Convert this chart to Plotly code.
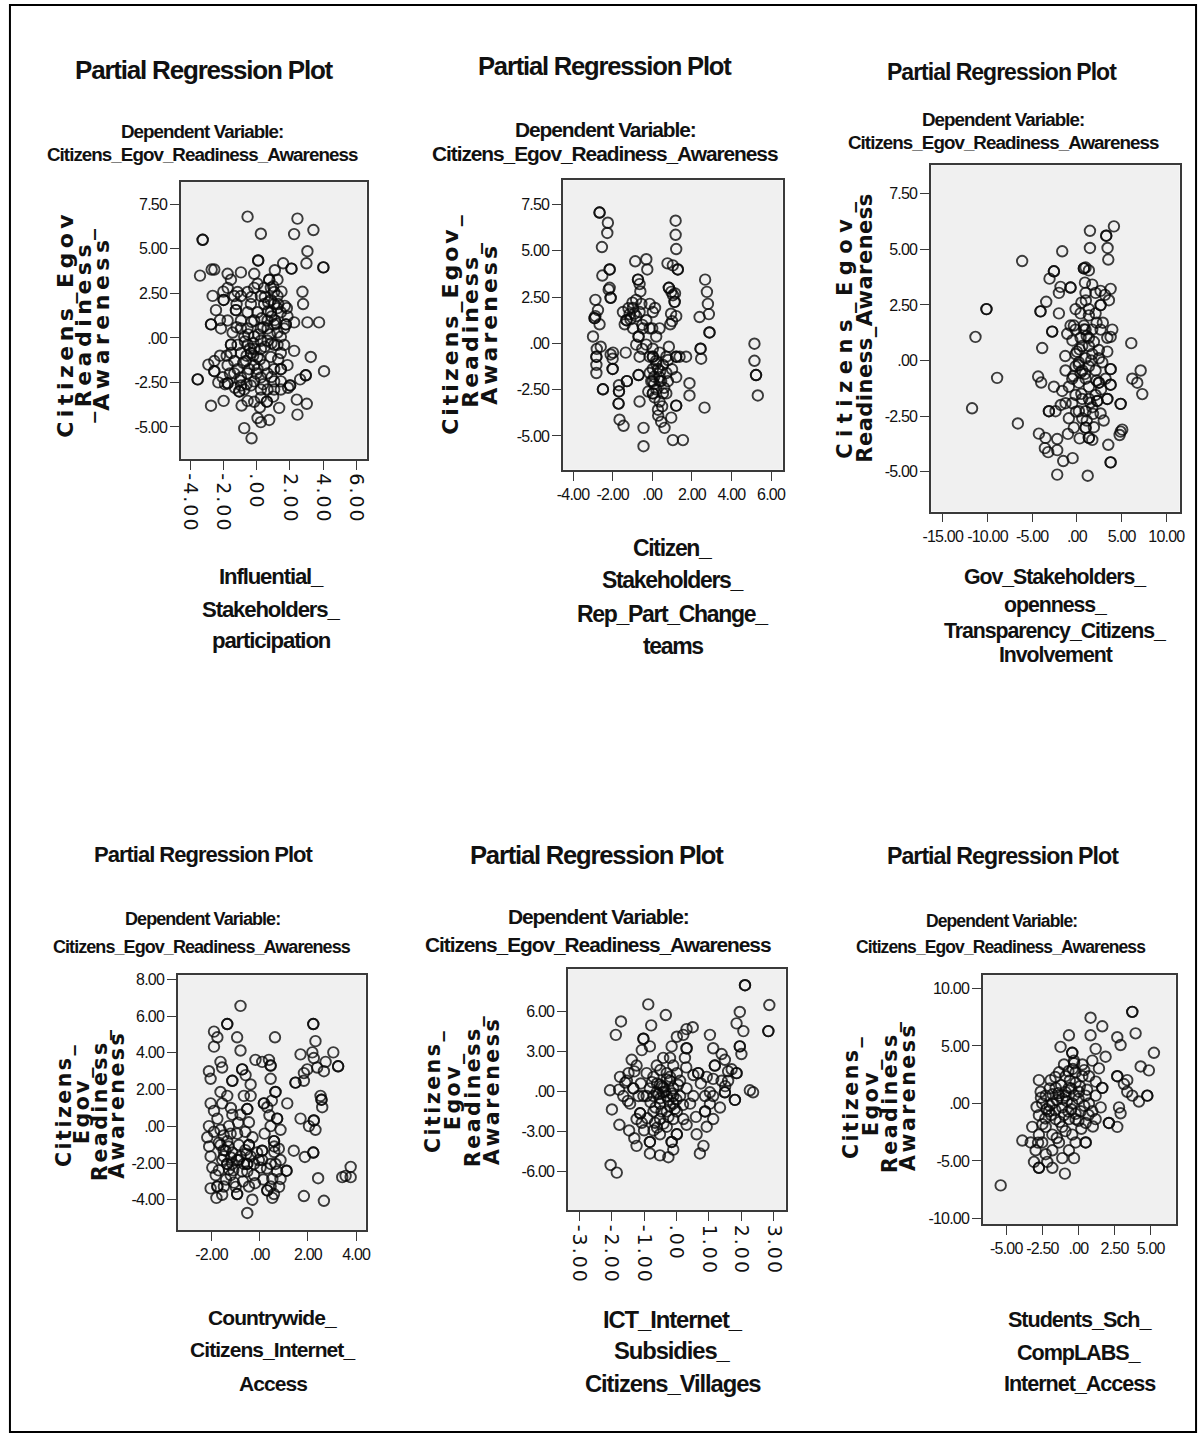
import plotly.graph_objects as go

W, H = 1203, 1437

SANS = "Liberation Sans, Arial, Helvetica, sans-serif"
WIDE = "DejaVu Sans, Verdana, sans-serif"
INK = "#111111"
FRAME = "#3a3a3a"

plot_title = "Partial Regression Plot"
dependent_label = "Dependent Variable:"
dependent_name = "Citizens_Egov_Readiness_Awareness"

# ---------------------------------------------------------------- data
p1_points = [
    (-0.54, 6.81), (0.26, 5.85), (2.46, 6.70), (2.26, 5.83), (3.42, 6.06), (3.06, 4.87), (3.00, 4.19),
    (-3.24, 5.51), (-3.24, 5.51), (0.10, 4.35), (0.10, 4.35), (2.10, 3.89), (2.10, 3.89), (4.02, 3.96), (4.02, 3.96),
    (1.60, 4.19), (-3.40, 3.50), (-2.70, 3.84), (-2.54, 3.84), (-1.74, 3.60), (-1.54, 3.27), (-0.94, 3.68), (-0.14, 3.60),
    (0.76, 3.27), (0.76, 3.27), (1.26, 3.27), (2.76, 2.59), (2.80, 1.90), (3.06, 0.87), (3.76, 0.87),
    (-2.64, 2.36), (-1.98, 2.13), (-1.98, 2.13), (-1.24, 1.56), (-1.24, 1.56), (-2.74, 0.76), (-2.74, 0.76),
    (-2.14, 0.53), (-2.44, 1.56), (-1.54, -0.38), (-1.54, -0.38), (-3.54, -2.33), (-3.54, -2.33),
    (-2.54, -1.30), (-2.54, -1.87), (-2.54, -1.87), (-2.04, -2.21), (-1.74, -2.55), (-1.74, -2.55),
    (-2.74, -3.81), (-1.98, -3.54), (-1.04, -3.01), (-1.04, -3.01), (-0.54, -3.54), (-0.74, -5.07), (-0.30, -5.64),
    (0.06, -4.50), (0.26, -4.73), (0.76, -4.61), (0.62, -3.58), (0.62, -3.58), (1.36, -3.93), (2.02, -2.67), (2.02, -2.67),
    (2.42, -3.47), (2.46, -4.31), (3.02, -3.70), (2.96, -2.10), (2.96, -2.10), (2.62, -2.33), (4.06, -1.87), (3.26, -1.07),
    (2.26, -0.73), (1.86, -1.53), (1.46, -1.76), (1.46, -1.76), (1.76, 0.76), (1.76, 0.76), (1.82, 1.67), (2.26, 0.87),
    (-0.94, 0.53), (-0.74, 0.07), (-0.54, -0.39), (-0.34, -0.85), (-0.94, -0.85), (-0.64, -1.30), (-0.44, -1.76),
    (-0.14, -1.53), (0.06, -1.07), (0.26, -0.62), (-0.14, 0.07), (0.26, 0.53), (0.66, 0.98), (0.86, 1.44), (1.06, 1.90),
    (1.26, 1.67), (0.86, 2.13), (0.46, 1.90), (0.66, 0.53), (1.06, 0.75), (1.26, 0.30), (1.46, 0.07), (1.06, -0.39),
    (1.46, -0.85), (0.86, -1.07), (0.46, -1.53), (0.26, -2.22), (0.66, -1.99), (1.06, -1.76), (-0.14, -2.44), (-0.54, -1.99),
    (-0.94, -2.22), (-1.14, -1.76), (-1.34, -1.30), (-1.54, -0.85), (-1.14, -0.39), (-0.94, 0.98), (-0.54, 1.44), (-0.14, 0.98),
    (0.06, 1.44), (0.26, 2.35), (-0.14, 2.81), (-0.54, 2.58), (-0.94, 2.35), (-0.34, 1.90), (0.06, 3.04), (0.46, 2.81),
    (0.86, 2.81), (1.06, 2.58), (1.26, 2.35), (1.46, 1.44), (1.86, 1.21), (1.66, 0.53), (1.26, -0.39), (1.66, -0.39),
    (0.66, -0.16), (0.26, -0.16), (-0.14, -0.62), (-0.54, 0.53), (-0.34, -2.67), (0.26, -2.90), (0.66, -2.90), (1.06, -2.44),
    (1.46, -2.44), (0.06, -1.76), (-0.74, -2.90), (-1.34, -1.99), (-0.94, -2.67), (-1.74, -1.53), (-1.44, 0.30), (-1.74, 0.98),
    (-1.14, 2.58), (-1.34, 2.35), (-1.74, 2.81), (1.06, -2.90), (1.46, -2.90), (-0.14, -3.59), (0.26, -3.36),
    (0.90, 1.20), (1.10, 1.00), (0.70, 1.50), (-0.60, -1.00), (-0.40, -0.60), (-0.80, -1.40), (0.20, -1.20), (1.20, 0.80),
    (0.80, 0.20), (-0.20, -0.30), (1.30, 1.90), (0.40, 0.60), (-0.50, 0.20), (0.00, -2.00), (-1.00, -2.40), (-1.60, -2.00),
    (-2.20, -1.00), (-1.90, -2.60), (0.50, 2.30), (1.00, 2.90),
    (-0.30, 0.90), (0.10, 0.20), (0.50, -0.50), (0.90, -0.30), (1.30, -1.20), (-0.70, -0.20), (-1.20, 0.60), (0.30, 1.10),
    (0.70, 2.00), (1.50, 2.60), (1.70, 1.80), (-0.60, -2.60), (-0.20, -1.00), (0.40, -2.60), (0.90, -2.20), (-1.30, -2.80),
    (-1.80, -1.00), (-2.30, -2.50), (0.20, -3.90), (1.00, -3.30), (-0.90, -3.80), (1.90, -2.80), (-1.20, 1.90), (-0.30, 2.30),
    (1.10, 3.80), (-2.00, 2.60), (-2.90, -1.50), (-2.20, 1.00),
]
p1_xticks = [-4, -2, 0, 2, 4, 6]
p1_xticklabels = ["-4.00", "-2.00", ".00", "2.00", "4.00", "6.00"]
p1_yticks = [-5, -2.5, 0, 2.5, 5, 7.5]
p1_yticklabels = ["-5.00", "-2.50", ".00", "2.50", "5.00", "7.50"]
p1_ytitle = ["Citizens_Egov", "_Readiness_", "Awareness"]
p1_xtitle = ["Influential_", "Stakeholders_", "participation"]

p2_points = [
    (-2.66, 7.06), (-2.66, 7.06), (-2.24, 6.51), (-2.27, 5.96), (-2.54, 5.20), (-2.52, 3.66), (-2.15, 3.99), (-2.15, 3.99),
    (-2.10, 2.46), (-2.10, 2.46), (-2.15, 3.00), (-2.87, 2.35), (-2.74, 1.80), (-2.87, 1.47), (-2.66, 1.03), (-2.91, 1.36), (-2.91, 1.36),
    (-2.99, 0.37), (-2.60, -0.18), (-2.82, -0.72), (-2.82, -0.72), (-2.82, -1.16), (-2.82, -1.60), (-1.98, -0.50), (-2.00, -0.83),
    (-2.00, -1.38), (-2.00, -1.38), (-2.49, -2.48), (-2.49, -2.48), (-1.68, -2.26), (-1.68, -2.59), (-1.68, -2.59), (-1.70, -3.25), (-1.70, -3.25),
    (-1.65, -4.12), (-1.45, -4.45), (-1.28, -2.04), (-1.28, -2.04), (-1.34, -0.50), (-1.30, 1.25), (-1.30, 1.25), (-1.14, 1.58), (-0.97, 1.91),
    (-0.86, 4.43), (-0.30, 4.54), (-0.25, 3.99), (-0.72, 3.44), (-0.72, 3.44), (-0.64, 3.20), (-0.81, 2.35), (-0.55, 2.13),
    (-0.69, 0.37), (-0.69, 0.37), (-0.81, -0.07), (-0.64, -0.72), (-0.69, -1.71), (-0.69, -1.71), (-0.64, -3.14), (-0.44, -4.56), (-0.44, -5.55),
    (-0.13, 2.13), (0.00, 0.81), (0.14, 1.91), (0.03, -0.72), (0.03, -0.72), (0.03, -2.70), (0.03, -2.70), (0.29, -1.38), (0.37, -2.04),
    (0.37, -3.14), (0.45, -4.23), (0.62, -4.56), (0.77, 4.32), (1.04, 4.21), (1.29, 3.99), (1.29, 3.99), (1.18, 6.62), (1.18, 5.86), (1.21, 5.09),
    (0.84, 3.00), (0.84, 3.00), (0.96, 2.78), (1.13, 2.24), (1.13, 2.24), (1.21, 1.47), (0.91, 1.03), (0.84, -0.18), (1.21, -0.72), (1.21, -0.72),
    (1.38, -0.72), (1.71, -0.72), (1.21, -1.82), (1.21, -3.36), (1.21, -3.36), (0.96, -4.01), (1.04, -5.22), (1.55, -5.22), (1.88, -2.15), (1.88, -2.81),
    (0.79, -2.04), (2.39, 1.42), (2.44, -0.29), (2.44, -0.29), (2.47, -0.83), (2.67, 3.44), (2.76, 2.78), (2.81, 2.13), (2.86, 1.58), (2.89, 0.59), (2.89, 0.59),
    (2.64, -3.47), (5.16, -0.02), (5.16, -0.94), (5.24, -1.71), (5.24, -1.71), (5.33, -2.81),
    (0.03, -1.38), (0.20, -0.94), (-0.13, -1.60), (0.37, -0.50), (0.54, -1.16), (0.03, -2.04), (0.20, -2.48), (-0.13, -0.72), (0.37, -1.82),
    (0.71, -1.60), (0.03, -0.29), (-0.30, -0.07), (-0.13, 0.81), (0.20, 0.37), (-0.30, 1.25), (0.03, 1.69), (-0.47, 0.81), (-0.97, 0.81),
    (-0.81, 1.47), (-1.48, 1.69), (-1.39, 1.03), (-0.64, 1.69), (0.37, 0.81), (0.54, -2.70), (0.29, -3.58), (0.12, -2.92), (0.71, -2.70),
    (-0.05, -2.04), (0.45, -2.04), (0.71, -0.72), (0.95, 1.60), (1.05, 2.60), (-1.10, 1.30), (0.10, -1.80),
    (-0.90, 1.60), (-1.20, 1.90), (-0.50, 1.00), (0.20, -1.10), (0.40, -1.50), (0.10, -2.20), (-0.20, -2.60), (0.50, -3.40),
    (0.30, -3.90), (0.60, -2.40), (-0.50, -0.30), (1.00, -1.40), (1.15, 2.70), (1.00, 1.20), (-2.80, -0.30), (-2.10, -0.60),
    (-2.20, 2.90), (0.80, -0.90), (-0.60, 2.80), (-1.00, 2.20),
]
p2_xticks = [-4, -2, 0, 2, 4, 6]
p2_xticklabels = ["-4.00", "-2.00", ".00", "2.00", "4.00", "6.00"]
p2_yticks = [-5, -2.5, 0, 2.5, 5, 7.5]
p2_yticklabels = ["-5.00", "-2.50", ".00", "2.50", "5.00", "7.50"]
p2_ytitle = ["Citizens_Egov_", "Readiness_", "Awareness"]
p2_xtitle = ["Citizen_", "Stakeholders_", "Rep_Part_Change_", "teams"]

p3_points = [
    (4.14, 6.03), (1.46, 5.83), (3.28, 5.61), (3.28, 5.61), (1.46, 5.06), (3.43, 5.06), (3.51, 4.54), (-1.64, 4.91), (-6.12, 4.47),
    (-2.57, 4.01), (-2.57, 4.01), (-3.06, 3.68), (-1.83, 3.31), (-2.01, 3.04), (-0.71, 3.28), (-0.71, 3.28), (-3.43, 2.64),
    (-4.07, 2.21), (-4.07, 2.21), (-2.01, 2.12), (-2.76, 1.30), (-2.76, 1.30), (-3.88, 0.56), (0.78, 4.14), (0.78, 4.14),
    (0.97, 4.18), (1.34, 4.05), (1.72, 3.41), (0.97, 3.04), (2.09, 3.04), (2.65, 3.13), (3.13, 2.95), (3.77, 3.22), (3.58, 2.71),
    (2.65, 2.49), (2.65, 2.49), (-0.15, 2.31), (0.41, 2.12), (1.34, 2.03), (2.09, 2.12), (3.96, 1.39), (3.77, 1.06), (3.40, 1.02),
    (6.08, 0.78), (-11.34, 1.06), (-10.11, 2.31), (-10.11, 2.31), (-8.92, -0.78), (-11.72, -2.15), (-6.60, -2.83),
    (-4.33, -0.72), (-3.99, -0.99), (-4.25, -3.29), (-3.51, -3.48), (-3.58, -3.94), (-3.21, -4.12), (-2.20, -3.53),
    (-2.20, -4.03), (-1.53, -4.52), (-2.20, -5.13), (-0.48, -4.39), (1.21, -5.18), (3.77, -4.58), (3.77, -4.58), (3.51, -3.79),
    (4.89, -3.20), (5.07, -3.11), (4.78, -3.35), (4.89, -1.95), (4.89, -1.95), (6.19, -0.82), (7.13, -0.45), (6.75, -1.00),
    (7.31, -1.51), (3.77, -0.39), (3.77, -0.39), (3.77, -1.09), (3.77, -1.09), (2.46, -1.00), (2.46, -1.00), (3.40, -1.73),
    (3.40, -1.73), (2.65, -2.38), (0.97, -3.02), (0.97, -3.02), (1.34, -3.48), (1.34, -3.48), (1.72, -3.57), (-0.34, -3.02),
    (-2.39, -2.28), (-3.13, -2.28), (-3.13, -2.28), (-2.57, -1.18), (-1.64, -1.37), (-1.27, -1.92), (-0.52, -1.92),
    (0.22, -2.28), (0.97, -2.28), (1.72, -2.10), (2.28, -1.82), (2.28, -1.82),
    (-0.15, 1.39), (0.41, 1.02), (0.97, 1.39), (1.34, 1.02), (1.72, 1.39), (0.60, 0.65), (-0.15, 0.29), (0.22, -0.08),
    (0.97, 0.10), (1.72, 0.29), (2.46, 0.47), (0.60, -0.45), (0.97, -0.82), (1.34, -1.18), (0.22, -1.00), (-0.52, -0.82),
    (-1.27, -0.45), (-0.90, -1.18), (-0.15, -1.55), (0.60, -1.73), (1.34, -1.73), (2.09, -1.55), (1.34, -0.26), (2.09, -0.45),
    (-0.15, -0.26), (0.41, -0.54), (0.78, 1.57), (-0.34, 1.57), (-0.71, 1.57), (-1.08, 1.20), (1.34, 2.31), (2.65, 1.39),
    (2.84, -0.08), (3.21, -0.82), (2.46, 0.10), (1.90, 0.84), (1.34, 0.65),
    (0.80, 1.40), (1.10, 1.10), (0.90, -0.60), (0.50, -1.50), (1.50, -1.90), (-0.10, -2.30), (0.20, -0.20), (1.80, -2.40),
    (2.20, -0.90), (0.30, 0.50),
    (0.50, 2.60), (1.00, 2.70), (-0.50, 0.90), (0.00, 0.40), (1.60, 0.00), (2.20, 1.70), (0.60, -2.60), (1.10, -2.70),
    (-0.90, -2.60), (-1.80, -2.00), (3.00, -2.70), (2.90, 1.70), (-1.30, 0.20), (0.90, 3.50), (1.90, -3.00), (0.30, -3.50),
    (-1.00, -3.30), (3.40, 0.40), (2.70, -1.30), (-0.40, -0.70),
]
p3_xticks = [-15, -10, -5, 0, 5, 10]
p3_xticklabels = ["-15.00", "-10.00", "-5.00", ".00", "5.00", "10.00"]
p3_yticks = [-5, -2.5, 0, 2.5, 5, 7.5]
p3_yticklabels = ["-5.00", "-2.50", ".00", "2.50", "5.00", "7.50"]
p3_ytitle = ["Citizens_Egov_", "Readiness_Awareness"]
p3_xtitle = ["Gov_Stakeholders_", "openness_", "Transparency_Citizens_", "Involvement"]

p4_points = [
    (-0.80, 6.56), (-1.35, 5.57), (-1.35, 5.57), (-1.90, 5.16), (-1.76, 4.85), (-1.90, 4.34), (-2.11, 3.00), (-2.04, 2.59),
    (-0.94, 4.85), (-0.80, 4.13), (-1.63, 3.51), (-1.56, 3.20), (-1.14, 2.48), (-1.14, 2.48), (-0.73, 3.10), (-0.73, 3.10),
    (-0.59, 2.79), (-0.18, 3.62), (0.10, 3.51), (0.38, 3.62), (0.45, 3.31), (0.45, 3.31), (0.45, 2.59), (0.63, 4.85),
    (-0.38, 2.28), (-0.38, 1.66), (1.14, 1.25), (1.48, 2.38), (1.48, 2.38), (1.83, 2.90), (1.83, 2.48), (1.97, 3.10),
    (1.69, 3.92), (2.18, 4.03), (2.22, 5.57), (2.22, 5.57), (2.31, 4.64), (2.24, 3.72), (2.38, 3.20), (2.66, 3.00), (2.73, 3.51),
    (3.05, 4.03), (3.25, 3.27), (3.25, 3.27), (2.52, 1.66), (2.56, 1.45), (2.56, 1.45), (2.59, 1.04), (2.24, 0.32), (2.24, 0.32),
    (2.04, 0.01), (2.31, -0.19), (2.22, -1.43), (2.22, -1.43), (1.87, -1.67), (1.69, 0.42), (1.41, -1.33), (2.42, -2.83),
    (1.83, -3.80), (2.66, -4.06), (1.11, -2.42), (1.11, -2.42), (3.42, -2.77), (3.56, -2.70), (3.77, -2.21), (3.77, -2.77),
    (-2.04, -3.38), (-1.56, -3.73), (-1.49, -3.28), (-1.76, -3.28), (-1.76, -3.28), (-0.94, -3.69), (-0.94, -3.69),
    (-0.52, -4.72), (-0.31, -4.00), (-0.45, -3.28), (0.31, -3.49), (0.31, -3.49), (0.52, -3.90), (0.59, -3.69), (0.72, -2.46),
    (0.86, -2.87), (0.59, -0.81), (0.59, -0.81), (0.65, -2.05), (0.17, 1.25), (0.17, 1.25), (0.31, 1.04), (0.65, 1.87),
    (0.65, 1.87), (0.72, 0.42), (0.72, 0.42), (0.10, -1.33), (0.10, -1.33), (0.10, -1.84), (0.03, -2.25), (0.45, 0.01),
    (-0.52, 0.94), (-0.52, 0.94), (-0.45, 0.22), (-0.45, -1.02), (-0.45, -1.02), (-0.87, -1.84), (-0.52, -2.05), (-0.52, -2.05),
    (-0.52, -2.46), (-2.11, 0.01), (-2.18, -0.60), (-2.04, 1.25), (-1.90, 0.84), (-1.76, 0.42), (-1.63, -0.19), (-1.63, -1.02),
    (-1.49, -1.64), (-1.35, -2.05), (-1.35, -2.05), (-2.04, -1.64), (-1.97, -2.25), (-1.83, -2.66), (-1.21, -2.66), (-1.07, -3.07),
    (-1.35, -0.81), (-1.21, -0.40), (-1.28, 0.01), (-1.14, 0.63), (-0.94, -0.40), (-0.87, -1.02), (-0.80, 0.63), (-0.66, 1.66),
    (-1.56, 1.25), (-1.35, 1.66), (-1.63, 1.87), (-1.14, -1.43), (-0.94, -1.84), (-0.38, -1.64), (-0.24, -2.05), (-0.11, -1.43),
    (-0.04, -1.84), (-0.73, -2.46), (-0.24, -2.66), (0.45, -2.05), (0.52, -2.87), (0.45, -3.28), (0.86, -1.84), (0.79, -1.22),
    (0.86, -0.19), (-1.28, -2.35), (-1.14, -2.05), (-1.56, -1.84), (-1.42, -1.33), (-0.80, -1.64), (-0.66, -2.05),
    (-1.30, -1.10), (-1.50, -0.50), (-1.20, -1.70), (-0.55, -1.50), (0.60, -1.40), (-1.70, -2.40),
    (-1.50, -1.30), (-1.10, -2.40), (-1.40, -2.90), (-1.70, -0.90), (-1.90, -0.30), (-0.60, -0.30), (-0.30, -0.60),
    (-0.70, -3.00), (-0.20, -3.10), (0.30, -2.30), (0.60, -1.10), (0.20, -0.40), (0.40, 0.60), (0.50, 1.40), (-1.00, -3.30),
    (-1.80, -3.90), (-2.10, -1.10), (-0.90, 0.20), (-1.20, 1.00), (0.80, -3.30), (0.15, -2.90), (-0.60, -1.30),
]
p4_xticks = [-2, 0, 2, 4]
p4_xticklabels = ["-2.00", ".00", "2.00", "4.00"]
p4_yticks = [-4, -2, 0, 2, 4, 6, 8]
p4_yticklabels = ["-4.00", "-2.00", ".00", "2.00", "4.00", "6.00", "8.00"]
p4_ytitle = ["Citizens_", "Egov_", "Readiness_", "Awareness"]
p4_xtitle = ["Countrywide_", "Citizens_Internet_", "Access"]

p5_points = [
    (2.11, 7.94), (2.11, 7.94), (2.86, 6.46), (2.83, 4.51), (2.83, 4.51), (1.95, 5.94), (1.85, 5.09), (2.06, 4.51),
    (-0.87, 6.51), (-0.78, 4.94), (-0.33, 5.71), (-1.71, 5.23), (-1.87, 4.23), (-1.02, 3.94), (-1.02, 3.94), (-1.07, 3.09),
    (-0.82, 3.37), (-1.38, 2.37), (-1.23, 1.94), (-1.48, 1.37), (-1.74, 1.09), (-1.58, 0.66), (-2.05, 0.09), (-1.77, 0.14),
    (-1.99, -1.34), (-1.76, -2.49), (-1.46, -2.91), (-2.03, -5.49), (-1.84, -6.06), (-1.30, -3.49), (-1.23, -4.06),
    (-1.12, -1.63), (-1.12, -1.63), (-1.07, -2.34), (-0.82, -3.77), (-0.82, -3.77), (-0.82, -4.63), (-0.51, -4.77), (-0.25, -4.91),
    (-0.15, -3.77), (-0.15, -3.77), (-0.10, -4.34), (0.72, -4.63), (0.83, -4.06), (0.62, -3.20), (0.93, -2.63),
    (0.88, -1.49), (0.88, -1.49), (1.03, -0.91), (1.13, -0.34), (1.49, -0.06), (1.49, -0.06), (1.80, -0.63), (1.80, -0.63),
    (2.36, -0.06), (2.26, 0.09), (1.59, 1.51), (1.70, 1.66), (1.85, 1.37), (1.85, 1.37), (1.95, 3.37), (1.95, 3.37), (2.00, 2.80),
    (1.39, 2.80), (1.49, 2.37), (1.18, 1.94), (1.18, 1.94), (1.13, 0.94), (0.93, 1.09), (1.03, 4.23), (1.13, 3.23),
    (0.67, 1.37), (0.67, 1.37), (0.31, 3.23), (0.31, 3.23), (0.26, 2.51), (0.21, 4.23), (0.31, 4.66), (0.50, 4.80),
    (0.01, 4.09), (-0.15, 3.37), (0.52, 1.23), (0.52, -0.34), (0.31, 0.23), (0.42, -0.91), (0.21, -2.06), (0.31, -2.49),
    (0.01, -3.20), (0.01, -3.20),
    (-0.71, 1.09), (-0.51, 0.51), (-0.30, 1.37), (-0.10, 1.94), (-0.30, -0.34), (-0.51, -0.91), (-0.71, -0.34), (-0.10, 0.23),
    (0.11, -0.34), (-0.30, -1.49), (-0.10, -2.06), (-0.51, -2.06), (-0.71, -1.49), (-0.92, -0.34), (-0.82, 0.23), (-0.61, 1.94),
    (-0.41, 2.51), (-0.20, 2.51), (0.01, 1.37), (0.11, 0.80), (-0.30, -2.63), (-0.10, -0.91), (-0.41, -0.06), (-0.20, 0.80),
    (-0.61, -0.06), (-0.25, -0.63), (0.01, -1.49), (-0.46, -1.49), (-0.66, -2.34), (-0.10, -0.34), (-0.71, -2.91), (-0.51, -3.20),
    (-1.53, 0.80), (-1.33, 0.23), (-1.33, 0.23), (-1.17, -0.34), (-1.64, -0.34), (-1.43, -0.91), (-1.23, -2.06), (-1.02, -0.34),
    (-0.92, 1.37), (1.13, -2.06), (1.34, -1.20), (1.03, -0.06), (1.39, 0.80), (1.59, 0.80), (0.88, -0.34),
    (-0.40, 0.30), (-0.20, -1.10), (-0.60, 0.60), (-0.30, 0.90), (-0.50, -0.50), (0.00, -0.60),
    (-0.35, 0.00), (-0.55, -0.20), (-0.15, -0.15), (-0.45, 0.40), (-0.25, -1.90), (-0.65, -1.20), (-0.80, -0.80), (0.05, 0.50),
    (-0.20, 1.10), (-0.50, 1.60), (-0.75, 0.70), (-0.05, -1.30), (-0.40, -2.40), (-0.90, -2.00), (0.20, -1.00), (-1.10, 0.60),
    (-1.30, 1.50), (-1.50, -0.70), (0.60, -1.90), (1.50, 0.40), (0.75, 0.60), (-0.60, -2.70), (-1.00, -2.90), (0.30, 1.80),
]
p5_xticks = [-3, -2, -1, 0, 1, 2, 3]
p5_xticklabels = ["-3.00", "-2.00", "-1.00", ".00", "1.00", "2.00", "3.00"]
p5_yticks = [-6, -3, 0, 3, 6]
p5_yticklabels = ["-6.00", "-3.00", ".00", "3.00", "6.00"]
p5_ytitle = ["Citizens_", "Egov_", "Readiness_", "Awareness"]
p5_xtitle = ["ICT_Internet_", "Subsidies_", "Citizens_Villages"]

p6_points = [
    (-5.39, -7.12), (-3.89, -3.22), (-3.31, -3.39), (-3.08, -5.08), (-2.74, -5.59), (-2.74, -5.59), (-2.74, 2.03),
    (-2.16, -5.08), (-1.81, -5.59), (-0.94, -6.10), (-1.12, -4.75), (-0.31, -4.75), (-1.24, 4.92), (-0.66, 5.93),
    (0.84, 7.46), (0.84, 5.93), (1.65, 6.71), (1.19, 4.75), (1.88, 4.07), (2.69, 5.76), (2.92, 5.08), (3.73, 7.97), (3.73, 7.97),
    (3.96, 6.10), (5.23, 4.41), (4.88, 2.88), (4.31, 3.22), (4.77, 0.68), (4.77, 0.68), (4.19, 0.17), (3.73, 0.68), (3.38, 1.02),
    (2.81, -0.34), (2.92, -0.85), (2.69, 2.37), (2.69, 2.37), (3.15, 1.69), (3.38, 2.03), (2.11, -1.69), (2.11, -1.69),
    (2.69, -2.03), (1.65, 1.36), (1.65, 1.36), (0.73, 0.00), (1.19, -1.36), (0.50, -3.39), (0.50, -3.39), (-0.43, 4.41),
    (-0.43, 4.41), (-0.31, 3.73), (-0.20, 2.71),
    (-2.27, 0.68), (-1.81, 0.00), (-1.35, 0.68), (-2.04, -0.68), (-1.58, -1.36), (-1.12, -0.34), (-0.89, 0.68), (-0.66, 1.36),
    (-0.43, 0.00), (-0.20, -1.36), (-1.12, -2.03), (-1.81, -2.71), (-2.27, -2.03), (-2.74, -1.02), (-2.51, 0.00), (-1.58, 1.36),
    (-0.89, 2.37), (0.03, 1.02), (0.27, 2.37), (0.50, 0.68), (0.15, -0.68), (-0.66, -1.36), (-0.43, -2.71), (-1.35, -3.39),
    (-1.81, -4.07), (-2.51, -3.39), (-2.74, -2.71), (-2.97, -4.07), (-2.27, -4.41), (-3.20, -2.03), (-2.62, 1.02), (-1.93, 2.03),
    (-1.35, 2.71), (-1.00, 3.39), (0.27, 3.39), (0.73, 2.37), (0.96, 3.73), (1.42, 3.05), (1.19, 0.68), (1.54, -0.34),
    (0.96, -0.68), (0.50, -1.69), (-0.20, -3.39), (-0.66, -4.07),
    (-0.30, 3.50), (-0.40, 3.00), (0.10, 1.50), (-0.90, 1.00), (-1.50, 0.30), (-2.00, -0.20), (-0.50, -0.50), (0.40, -0.20),
    (-1.00, -1.00), (-1.80, 0.80), (-2.30, -1.30), (0.00, 0.40), (-0.60, 2.00), (0.60, 1.20), (1.00, -2.00), (-2.60, 0.50),
    (-1.20, 1.60), (-0.20, -0.90), (-1.60, -0.60), (-0.80, 0.20),
    (-1.40, 0.90), (-1.10, 0.40), (-0.70, -0.70), (-0.30, 0.70), (-1.90, -1.00), (-2.20, -0.50), (-2.50, -1.80), (-1.30, -1.60),
    (-0.90, -2.40), (-0.20, 1.80), (0.40, 2.90), (-0.70, 2.80), (-1.60, 2.30), (-2.90, -0.30), (-2.80, -3.40), (-1.50, -3.00),
    (0.20, -2.20), (0.70, -1.00), (1.20, 1.90), (-0.50, 1.30), (0.00, -1.50), (-2.00, 1.30),
]
p6_xticks = [-5, -2.5, 0, 2.5, 5]
p6_xticklabels = ["-5.00", "-2.50", ".00", "2.50", "5.00"]
p6_yticks = [-10, -5, 0, 5, 10]
p6_yticklabels = ["-10.00", "-5.00", ".00", "5.00", "10.00"]
p6_ytitle = ["Citizens_", "Egov_", "Readiness_", "Awareness"]
p6_xtitle = ["Students_Sch_", "CompLABS_", "Internet_Access"]

# ---------------------------------------------------------------- layout (pixel geometry)
# box = (left, top, right, bottom) of the plotting frame.
# title = (cx, cy, size, spacing); sub = (cx, cy1, cy2, size, spacing)
# ytx = x centre of each rotated line of the vertical title, yls = letter spacing per line.
panels = [
    dict(points=p1_points, xt=p1_xticks, xl=p1_xticklabels, yt=p1_yticks, yl=p1_yticklabels,
         box=(180, 179, 366, 457), xr=(-4.54, 6.62), yr=(-6.79, 8.75), xangle=90,
         title=(203, 66, 26, -1.2), sub=(201, 128, 151, 18.8, -0.96),
         ytitle=p1_ytitle, ytx=(64, 82, 100), yls=(4.5, 4.5, 4.5), yty=321, yts=22,
         xtitle=p1_xtitle, xtx=271, xty=(575, 608, 640), xts=(22.2, -1.15)),
    dict(points=p2_points, xt=p2_xticks, xl=p2_xticklabels, yt=p2_yticks, yl=p2_yticklabels,
         box=(563, 177, 783, 468), xr=(-4.5, 6.58), yr=(-6.82, 8.81), xangle=0,
         title=(605, 62, 25.6, -1.2), sub=(605, 126, 150, 20.9, -1.06),
         ytitle=p2_ytitle, ytx=(450, 470, 489), yls=(3, 3, 3), yty=321, yts=22,
         xtitle=p2_xtitle, xtx=673, xty=(547, 579, 613, 645), xts=(23, -1.33)),
    dict(points=p3_points, xt=p3_xticks, xl=p3_xticklabels, yt=p3_yticks, yl=p3_yticklabels,
         box=(932, 162, 1181, 510), xr=(-16.29, 11.48), yr=(-6.79, 8.78), xangle=0,
         title=(1003, 68, 23, -1.0), sub=(1004, 116, 139, 18.8, -0.96),
         ytitle=p3_ytitle, ytx=(846, 866), yls=(6.5, 0.5), yty=325, yts=21,
         xtitle=p3_xtitle, xtx=1057, xty=(576, 604, 630, 654), xts=(21.3, -1.05)),
    dict(points=p4_points, xt=p4_xticks, xl=p4_xticklabels, yt=p4_yticks, yl=p4_yticklabels,
         box=(177, 976, 365, 1232), xr=(-3.39, 4.39), yr=(-5.65, 8.23), xangle=0,
         title=(203, 855, 22, -1.0), sub=(201, 919, 948, 18, -0.94),
         ytitle=p4_ytitle, ytx=(62, 80, 98, 115), yls=(2.5, 2.5, 2.5, 2.5), yty=1106, yts=20.5,
         xtitle=p4_xtitle, xtx=272, xty=(1320, 1352, 1386), xts=(21, -0.93)),
    dict(points=p5_points, xt=p5_xticks, xl=p5_xticklabels, yt=p5_yticks, yl=p5_yticklabels,
         box=(568, 970, 786, 1212), xr=(-3.34, 3.36), yr=(-8.86, 9.13), xangle=90,
         title=(597, 855, 25.6, -1.2), sub=(598, 917, 945, 20.9, -1.06),
         ytitle=p5_ytitle, ytx=(432, 452, 472, 491), yls=(2.5, 2.5, 2.5, 2.5), yty=1092, yts=20.5,
         xtitle=p5_xtitle, xtx=673, xty=(1322, 1353, 1386), xts=(23.8, -1.09)),
    dict(points=p6_points, xt=p6_xticks, xl=p6_xticklabels, yt=p6_yticks, yl=p6_yticklabels,
         box=(984, 976, 1177, 1226), xr=(-6.61, 6.73), yr=(-10.48, 11.15), xangle=0,
         title=(1004, 856, 23.2, -1.0), sub=(1002, 921, 948, 17.5, -0.9),
         ytitle=p6_ytitle, ytx=(851, 871, 890, 908), yls=(2.5, 2.5, 2.5, 2.5), yty=1098, yts=20.5,
         xtitle=p6_xtitle, xtx=1081, xty=(1322, 1355, 1386), xts=(21.6, -1.05)),
]

# The page places the figure with a small body inset and the capture is fitted back to the
# window width, so horizontal positions are pre-compensated for that squeeze.
INSET, SQUEEZE = 7.5, 0.99


def px(x):
    return min(max((x - INSET) / SQUEEZE / W, 0.0), 1.0)


def py(y):
    return 1 - y / H


def spaced(text, spacing):
    if not spacing:
        return text
    return f'<span style="letter-spacing:{spacing}px">{text}</span>'


def label(text, cx, cy, size, family=SANS, weight="bold", angle=0, spacing=0):
    return dict(text=spaced(text, spacing), x=px(cx), y=py(cy), xref="paper", yref="paper",
                xanchor="center", yanchor="middle", showarrow=False, textangle=angle,
                font=dict(family=family, size=size, color=INK, weight=weight))


fig = go.Figure()
annotations = []
layout_axes = {}

for i, p in enumerate(panels, start=1):
    xs = [pt[0] for pt in p["points"]]
    ys = [pt[1] for pt in p["points"]]
    xa = "x" if i == 1 else f"x{i}"
    ya = "y" if i == 1 else f"y{i}"
    fig.add_trace(go.Scatter(
        x=xs, y=ys, mode="markers", xaxis=xa, yaxis=ya, showlegend=False, hoverinfo="skip",
        marker=dict(symbol="circle-open", size=10.5, color="rgba(8,8,8,0.78)",
                    line=dict(width=1.9, color="rgba(8,8,8,0.78)")),
    ))
    x0, y0, x1, y1 = p["box"]
    axis_common = dict(showgrid=False, zeroline=False, showline=True, mirror=True,
                       linecolor=FRAME, linewidth=1.6, ticks="outside", ticklen=9,
                       tickwidth=1.4, tickcolor=FRAME, tickmode="array")
    rotated = bool(p["xangle"])
    if rotated:
        xtext = [spaced(t, 2) for t in p["xl"]]
        xfont = dict(family=WIDE, size=19, color=INK)
    else:
        xtext = [spaced(t, -0.8) for t in p["xl"]]
        xfont = dict(family=SANS, size=16, color=INK)
    layout_axes["xaxis" if i == 1 else f"xaxis{i}"] = dict(
        axis_common, domain=[px(x0), px(x1)], range=list(p["xr"]), anchor=ya,
        tickvals=p["xt"], ticktext=xtext, tickangle=p["xangle"], tickfont=xfont,
    )
    layout_axes["yaxis" if i == 1 else f"yaxis{i}"] = dict(
        axis_common, domain=[py(y1), py(y0)], range=list(p["yr"]), anchor=xa,
        tickvals=p["yt"], ticktext=[spaced(t, -0.8) for t in p["yl"]],
        tickfont=dict(family=SANS, size=16, color=INK),
    )

    tx, ty, ts, tsp = p["title"]
    annotations.append(label(plot_title, tx, ty, ts, spacing=tsp))
    sx, sy1, sy2, ss, ssp = p["sub"]
    annotations.append(label(dependent_label, sx, sy1, ss, spacing=ssp))
    annotations.append(label(dependent_name, sx, sy2, ss, spacing=ssp))
    for line, lx, ls in zip(p["ytitle"], p["ytx"], p["yls"]):
        annotations.append(label(line, lx, p["yty"], p["yts"], family=WIDE, angle=-90, spacing=ls))
    xs_size, xs_sp = p["xts"]
    for line, ly in zip(p["xtitle"], p["xty"]):
        annotations.append(label(line, p["xtx"], ly, xs_size, spacing=xs_sp))

fig.update_layout(
    width=W, height=H, margin=dict(l=0, r=0, t=0, b=0),
    paper_bgcolor="white", plot_bgcolor="#f0f0f0",
    annotations=annotations,
    shapes=[dict(type="rect", xref="paper", yref="paper", x0=0.0008, y0=py(1435), x1=0.9992, y1=py(1),
                 line=dict(color="black", width=2), fillcolor="rgba(0,0,0,0)")],
    **layout_axes,
)

fig.write_html("out.html")
